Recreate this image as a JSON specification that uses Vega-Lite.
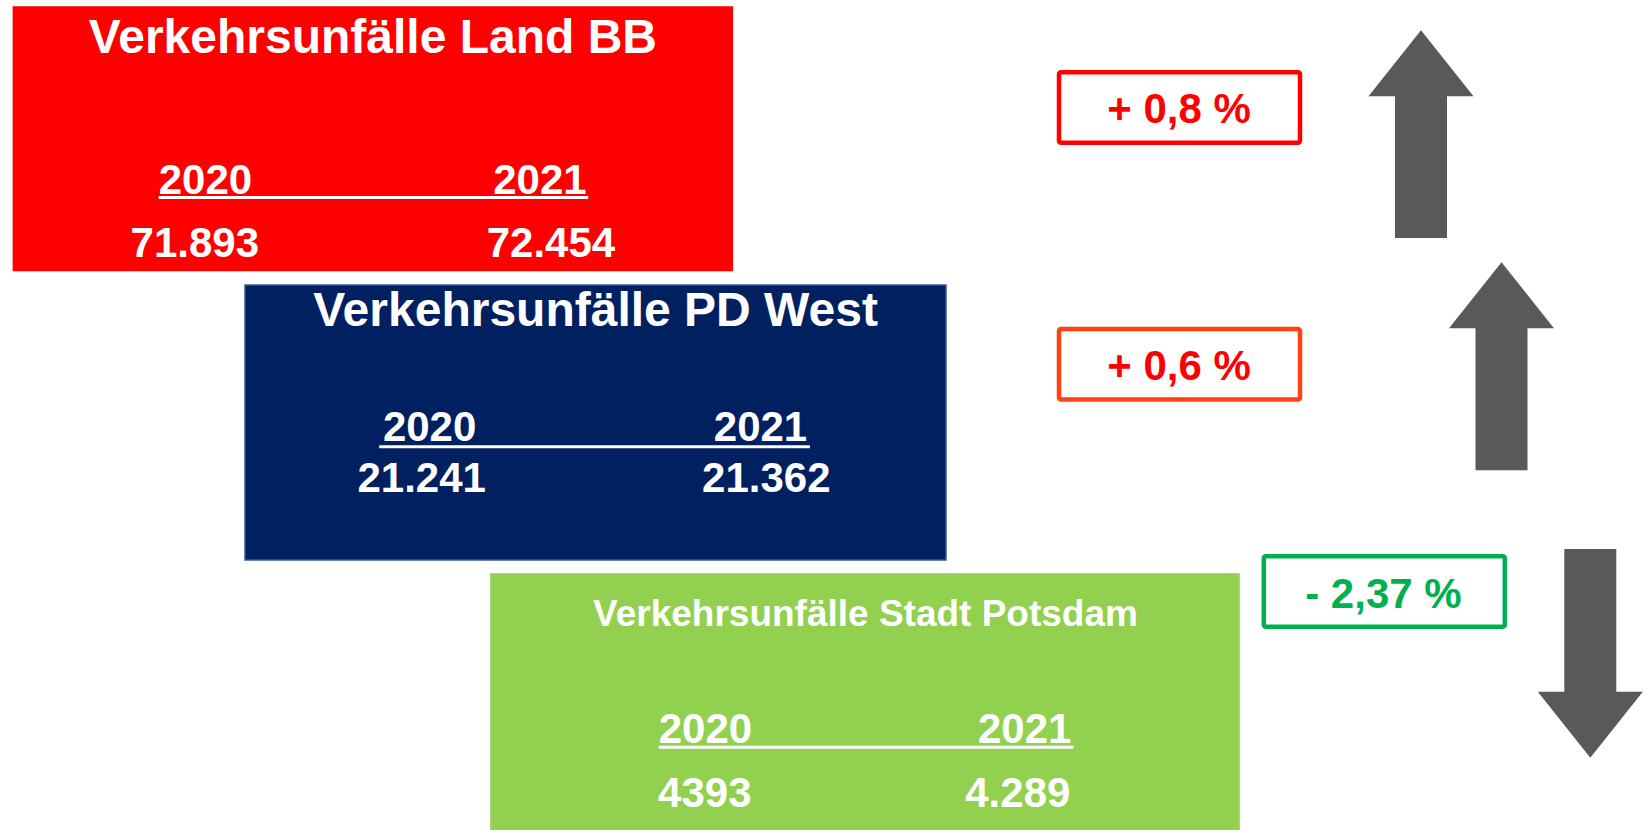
{
  "$schema": "https://vega.github.io/schema/vega-lite/v6.json",
  "width": 1647,
  "height": 830,
  "padding": 0,
  "autosize": {"type": "none"},
  "background": "white",
  "config": {
    "view": {"stroke": null},
    "text": {"font": "Liberation Sans", "fontWeight": "bold"}
  },
  "datasets": {
    "panels": [
      {"level": 0, "region": "Land BB", "title": "Verkehrsunfälle Land BB", "change": "+ 0,8 %", "trend": "up"},
      {"level": 1, "region": "PD West", "title": "Verkehrsunfälle PD West", "change": "+ 0,6 %", "trend": "up"},
      {"level": 2, "region": "Stadt Potsdam", "title": "Verkehrsunfälle Stadt Potsdam", "change": "- 2,37 %", "trend": "down"}
    ],
    "counts": [
      {"level": 0, "region": "Land BB", "year": "2020", "accidents": 71893, "label": "71.893"},
      {"level": 0, "region": "Land BB", "year": "2021", "accidents": 72454, "label": "72.454"},
      {"level": 1, "region": "PD West", "year": "2020", "accidents": 21241, "label": "21.241"},
      {"level": 1, "region": "PD West", "year": "2021", "accidents": 21362, "label": "21.362"},
      {"level": 2, "region": "Stadt Potsdam", "year": "2020", "accidents": 4393, "label": "4393"},
      {"level": 2, "region": "Stadt Potsdam", "year": "2021", "accidents": 4289, "label": "4.289"}
    ]
  },
  "resolve": {"scale": {"x": "independent", "y": "independent", "color": "independent", "size": "independent", "stroke": "independent", "shape": "independent"}},
  "layer": [
    {
      "data": {"name": "panels"},
      "transform": [{"filter": "datum.level == 0"}],
      "mark": {"type": "rect", "width": 720.5, "height": 265, "color": "#FF0000"},
      "encoding": {
        "x": {"field": "level", "type": "quantitative", "scale": {"domain": [0, 1, 2], "range": [372.85, 595.5, 865], "nice": false, "zero": false}, "axis": null},
        "y": {"field": "level", "type": "quantitative", "scale": {"domain": [0, 1, 2], "range": [138.8, 422.5, 704.5], "nice": false, "zero": false}, "axis": null}
      }
    },
    {
      "data": {"name": "panels"},
      "transform": [{"filter": "datum.level == 1"}],
      "mark": {"type": "rect", "width": 701, "height": 275, "color": "#002060", "stroke": "#3B5A92", "strokeWidth": 1.5},
      "encoding": {
        "x": {"field": "level", "type": "quantitative", "scale": {"domain": [0, 1, 2], "range": [372.85, 595.5, 865], "nice": false, "zero": false}, "axis": null},
        "y": {"field": "level", "type": "quantitative", "scale": {"domain": [0, 1, 2], "range": [138.8, 422.5, 704.5], "nice": false, "zero": false}, "axis": null}
      }
    },
    {
      "data": {"name": "panels"},
      "transform": [{"filter": "datum.level == 2"}],
      "mark": {"type": "rect", "width": 749, "height": 262, "color": "#92D050", "stroke": "#A8DA78", "strokeWidth": 1},
      "encoding": {
        "x": {"field": "level", "type": "quantitative", "scale": {"domain": [0, 1, 2], "range": [372.85, 595.5, 865], "nice": false, "zero": false}, "axis": null},
        "y": {"field": "level", "type": "quantitative", "scale": {"domain": [0, 1, 2], "range": [138.8, 422.5, 704.5], "nice": false, "zero": false}, "axis": null}
      }
    },
    {
      "data": {"name": "panels"},
      "mark": {"type": "text", "align": "center", "baseline": "alphabetic", "color": "white"},
      "encoding": {
        "x": {"field": "level", "type": "quantitative", "scale": {"domain": [0, 1, 2], "range": [372.9, 595.6, 865.5], "nice": false, "zero": false}, "axis": null},
        "y": {"field": "level", "type": "quantitative", "scale": {"domain": [0, 1, 2], "range": [53.3, 325.7, 626], "nice": false, "zero": false}, "axis": null},
        "size": {"field": "level", "type": "quantitative", "scale": {"domain": [0, 1, 2], "range": [48, 48, 37], "zero": false}, "legend": null},
        "text": {"field": "title"}
      }
    },
    {
      "data": {"name": "panels"},
      "transform": [{"filter": "datum.level == 0"}],
      "mark": {"type": "rect", "width": 429.6, "height": 3, "color": "white"},
      "encoding": {
        "x": {"field": "level", "type": "quantitative", "scale": {"domain": [0, 1, 2], "range": [373.4, 594.55, 866.05], "nice": false, "zero": false}, "axis": null},
        "y": {"field": "level", "type": "quantitative", "scale": {"domain": [0, 1, 2], "range": [197.5, 446.7, 747.3], "nice": false, "zero": false}, "axis": null}
      }
    },
    {
      "data": {"name": "panels"},
      "transform": [{"filter": "datum.level == 1"}],
      "mark": {"type": "rect", "width": 430.7, "height": 3, "color": "white"},
      "encoding": {
        "x": {"field": "level", "type": "quantitative", "scale": {"domain": [0, 1, 2], "range": [373.4, 594.55, 866.05], "nice": false, "zero": false}, "axis": null},
        "y": {"field": "level", "type": "quantitative", "scale": {"domain": [0, 1, 2], "range": [197.5, 446.7, 747.3], "nice": false, "zero": false}, "axis": null}
      }
    },
    {
      "data": {"name": "panels"},
      "transform": [{"filter": "datum.level == 2"}],
      "mark": {"type": "rect", "width": 414.9, "height": 3, "color": "white"},
      "encoding": {
        "x": {"field": "level", "type": "quantitative", "scale": {"domain": [0, 1, 2], "range": [373.4, 594.55, 866.05], "nice": false, "zero": false}, "axis": null},
        "y": {"field": "level", "type": "quantitative", "scale": {"domain": [0, 1, 2], "range": [197.5, 446.7, 747.3], "nice": false, "zero": false}, "axis": null}
      }
    },
    {
      "data": {"name": "counts"},
      "transform": [{"filter": "datum.year == '2020'"}],
      "mark": {"type": "text", "align": "center", "baseline": "alphabetic", "color": "white", "fontSize": 42},
      "encoding": {
        "x": {"field": "level", "type": "quantitative", "scale": {"domain": [0, 1, 2], "range": [205.4, 429.6, 705.4], "nice": false, "zero": false}, "axis": null},
        "y": {"field": "level", "type": "quantitative", "scale": {"domain": [0, 1, 2], "range": [194, 441, 742.7], "nice": false, "zero": false}, "axis": null},
        "text": {"field": "year"}
      }
    },
    {
      "data": {"name": "counts"},
      "transform": [{"filter": "datum.year == '2021'"}],
      "mark": {"type": "text", "align": "center", "baseline": "alphabetic", "color": "white", "fontSize": 42},
      "encoding": {
        "x": {"field": "level", "type": "quantitative", "scale": {"domain": [0, 1, 2], "range": [539.9, 760.5, 1024.7], "nice": false, "zero": false}, "axis": null},
        "y": {"field": "level", "type": "quantitative", "scale": {"domain": [0, 1, 2], "range": [194, 441, 742.7], "nice": false, "zero": false}, "axis": null},
        "text": {"field": "year"}
      }
    },
    {
      "data": {"name": "counts"},
      "transform": [{"filter": "datum.year == '2020'"}],
      "mark": {"type": "text", "align": "center", "baseline": "alphabetic", "color": "white", "fontSize": 42},
      "encoding": {
        "x": {"field": "level", "type": "quantitative", "scale": {"domain": [0, 1, 2], "range": [194.8, 421.7, 704.8], "nice": false, "zero": false}, "axis": null},
        "y": {"field": "level", "type": "quantitative", "scale": {"domain": [0, 1, 2], "range": [257.3, 492.3, 806.7], "nice": false, "zero": false}, "axis": null},
        "text": {"field": "label"}
      }
    },
    {
      "data": {"name": "counts"},
      "transform": [{"filter": "datum.year == '2021'"}],
      "mark": {"type": "text", "align": "center", "baseline": "alphabetic", "color": "white", "fontSize": 42},
      "encoding": {
        "x": {"field": "level", "type": "quantitative", "scale": {"domain": [0, 1, 2], "range": [550.9, 766.3, 1017.8], "nice": false, "zero": false}, "axis": null},
        "y": {"field": "level", "type": "quantitative", "scale": {"domain": [0, 1, 2], "range": [257.3, 492.3, 806.7], "nice": false, "zero": false}, "axis": null},
        "text": {"field": "label"}
      }
    },
    {
      "data": {"name": "panels"},
      "mark": {"type": "rect", "width": 241, "height": 70.4, "fill": "white", "strokeWidth": 4.5, "cornerRadius": 2},
      "encoding": {
        "x": {"field": "level", "type": "quantitative", "scale": {"domain": [0, 1, 2], "range": [1179.5, 1179.5, 1384.3], "nice": false, "zero": false}, "axis": null},
        "y": {"field": "level", "type": "quantitative", "scale": {"domain": [0, 1, 2], "range": [107.5, 364.2, 591.5], "nice": false, "zero": false}, "axis": null},
        "stroke": {"field": "region", "type": "nominal", "scale": {"domain": ["Land BB", "PD West", "Stadt Potsdam"], "range": ["#FF0000", "#FF4013", "#00B050"]}, "legend": null}
      }
    },
    {
      "data": {"name": "panels"},
      "mark": {"type": "text", "align": "center", "baseline": "alphabetic", "fontSize": 42},
      "encoding": {
        "x": {"field": "level", "type": "quantitative", "scale": {"domain": [0, 1, 2], "range": [1179, 1179, 1383.4], "nice": false, "zero": false}, "axis": null},
        "y": {"field": "level", "type": "quantitative", "scale": {"domain": [0, 1, 2], "range": [123.3, 380, 608.3], "nice": false, "zero": false}, "axis": null},
        "color": {"field": "region", "type": "nominal", "scale": {"domain": ["Land BB", "PD West", "Stadt Potsdam"], "range": ["#FF0000", "#FF0000", "#00B050"]}, "legend": null},
        "text": {"field": "change"}
      }
    },
    {
      "data": {"name": "panels"},
      "mark": {"type": "rect", "width": 52, "height": 143, "color": "#595959"},
      "encoding": {
        "x": {"field": "level", "type": "quantitative", "scale": {"domain": [0, 1, 2], "range": [1421, 1501.5, 1590.3], "nice": false, "zero": false}, "axis": null},
        "y": {"field": "level", "type": "quantitative", "scale": {"domain": [0, 1, 2], "range": [166.5, 398.8, 620.5], "nice": false, "zero": false}, "axis": null}
      }
    },
    {
      "data": {"name": "panels"},
      "mark": {"type": "point", "filled": true, "opacity": 1, "size": 11025, "color": "#595959", "strokeWidth": 0},
      "encoding": {
        "x": {"field": "level", "type": "quantitative", "scale": {"domain": [0, 1, 2], "range": [1421, 1501.5, 1590.3], "nice": false, "zero": false}, "axis": null},
        "y": {"field": "level", "type": "quantitative", "scale": {"domain": [0, 1, 2], "range": [63.2, 295.3, 724.7], "nice": false, "zero": false}, "axis": null},
        "shape": {"field": "trend", "type": "nominal", "scale": {"domain": ["up", "down"], "range": ["M-1,0.629L0,-0.629L1,0.629Z", "M-1,-0.629L0,0.629L1,-0.629Z"]}, "legend": null}
      }
    }
  ]
}
